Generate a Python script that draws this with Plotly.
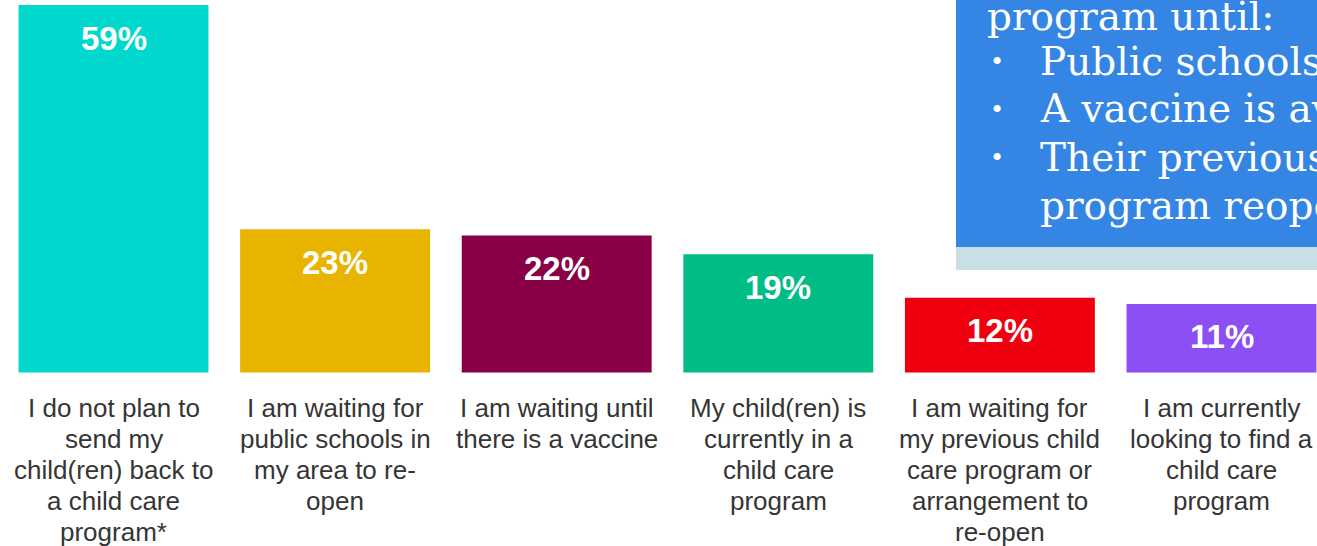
import plotly.graph_objects as go

# ---- data ----
categories = [
    "I do not plan to<br>send my<br>child(ren) back to<br>a child care<br>program*",
    "I am waiting for<br>public schools in<br>my area to re-<br>open",
    "I am waiting until<br>there is a vaccine",
    "My child(ren) is<br>currently in a<br>child care<br>program",
    "I am waiting for<br>my previous child<br>care program or<br>arrangement to<br>re-open",
    "I am currently<br>looking to find a<br>child care<br>program",
]
values = [59, 23, 22, 19, 12, 11]
value_labels = ["59%", "23%", "22%", "19%", "12%", "11%"]
bar_colors = ["#00D8CD", "#E8B400", "#8A0047", "#00BC86", "#F0000E", "#8B4FF3"]

box_title = "program until:"
box_items = ["Public schools reopen", "A vaccine is available", "Their previous child care<br>program reopens"]

W, H = 1317, 546
x_idx = list(range(len(categories)))

fig = go.Figure()
fig.add_trace(go.Bar(
    x=x_idx, y=values, width=0.857,
    marker=dict(color=bar_colors, line=dict(width=0)),
    hoverinfo="skip",
))

annotations = []
# value labels inside bars
for i, (v, t) in enumerate(zip(values, value_labels)):
    annotations.append(dict(
        x=i, y=v, xref="x", yref="y", text="<b>" + t + "</b>", showarrow=False,
        xanchor="center", yanchor="middle", yshift=-33,
        font=dict(family="Liberation Sans, Arial", size=33, color="white"),
    ))

# category labels below bars (one annotation per line)
for i, lab in enumerate(categories):
    for j, line in enumerate(lab.split("<br>")):
        annotations.append(dict(
            x=i, y=0, xref="x", yref="y", text=line, showarrow=False,
            xanchor="center", yanchor="middle", yshift=-35 - 31 * j,
            font=dict(family="Liberation Sans, Arial", size=26, color="#353535"),
        ))

# blue callout box
def py(p):
    return 1 - p / H

def px(p):
    return p / W

shapes = [
    dict(type="rect", xref="paper", yref="paper", x0=px(956), x1=1.0, y0=py(270), y1=py(247),
         fillcolor="#CADFE5", line=dict(width=0), layer="above"),
    dict(type="rect", xref="paper", yref="paper", x0=px(956), x1=1.0, y0=py(247), y1=1.0,
         fillcolor="#3586E4", line=dict(width=0), layer="above"),
]

serif = dict(family="DejaVu Serif, Noto Serif, serif", size=39, color="white")
annotations.append(dict(
    x=px(985), y=py(27 - 11), xref="paper", yref="paper", text=box_title, showarrow=False,
    xanchor="left", yanchor="middle", font=serif,
))
baseline = 74
for item in box_items:
    lines = item.split("<br>")
    annotations.append(dict(
        x=px(997), y=py(baseline - 12), xref="paper", yref="paper", text="•", showarrow=False,
        xanchor="center", yanchor="middle",
        font=dict(family="DejaVu Serif, serif", size=24, color="white"),
    ))
    for line in lines:
        annotations.append(dict(
            x=px(1038), y=py(baseline - 13), xref="paper", yref="paper", text=line, showarrow=False,
            xanchor="left", yanchor="middle", font=serif,
        ))
        baseline += 48

# axis ranges: 0 at y=372.5 px, 59 at y=5 px; category 0 centered at x=113.5 px
k = (372.5 - 5) / 59.0
y_top = 59 + 5 / k
y_bot = -(H - 372.5) / k
u = 221.6
x_left = -113.5 / u
x_right = (W - 113.5) / u

fig.update_layout(
    width=W, height=H,
    margin=dict(l=0, r=0, t=0, b=0, pad=0),
    paper_bgcolor="white", plot_bgcolor="white",
    showlegend=False,
    xaxis=dict(range=[x_left, x_right], visible=False, fixedrange=True),
    yaxis=dict(range=[y_bot, y_top], visible=False, fixedrange=True),
    annotations=annotations,
    shapes=shapes,
)

fig.write_html(
    "out.html",
    config={"displayModeBar": False},
    post_script="document.body.style.margin='0';document.body.style.overflow='hidden';",
)
